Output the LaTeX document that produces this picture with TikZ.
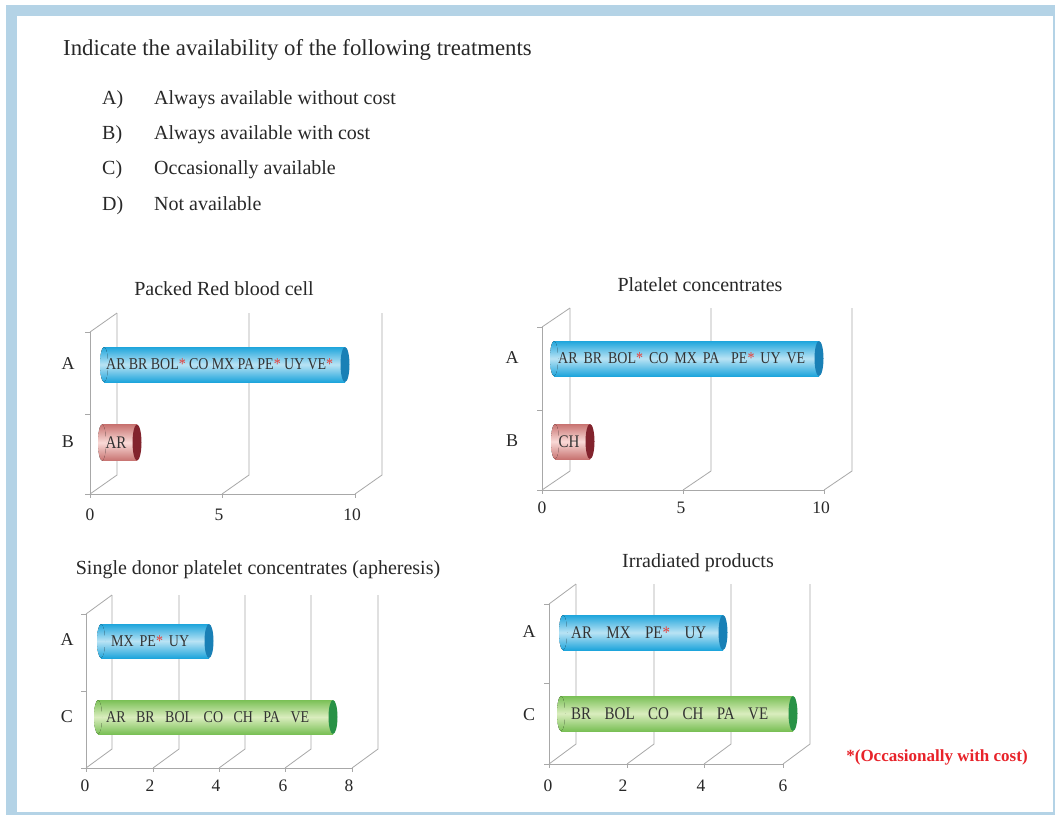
\documentclass[tikz,border=0pt]{standalone}
\usepackage{fontspec}
\usepackage{graphicx}
\setmainfont{Liberation Serif}
\definecolor{frameblue}{RGB}{180,211,230}
\definecolor{gridgray}{RGB}{168,168,168}
\definecolor{txt}{RGB}{40,40,40}
\definecolor{bartxt}{RGB}{50,50,50}
\definecolor{astred}{RGB}{232,64,58}
\definecolor{noteRed}{RGB}{232,35,42}
\definecolor{bEdge}{RGB}{30,165,220}
\definecolor{bLight}{RGB}{185,227,244}
\definecolor{bCap}{RGB}{25,128,182}
\definecolor{rEdge}{RGB}{200,115,113}
\definecolor{rLight}{RGB}{249,218,215}
\definecolor{rCap}{RGB}{130,35,45}
\definecolor{gEdge}{RGB}{122,192,86}
\definecolor{gLight}{RGB}{218,237,190}
\definecolor{gCap}{RGB}{40,146,70}
\tikzset{
  grid/.style={draw=gridgray,line width=0.8pt},
  titlefont/.style={font=\fontsize{22.8}{26}\selectfont,text=txt,inner sep=0pt},
  listfont/.style={font=\fontsize{20}{24}\selectfont,text=txt,inner sep=0pt,anchor=base west},
  charttitle/.style={font=\fontsize{20}{24}\selectfont,text=txt,inner sep=0pt},
  catlabel/.style={font=\fontsize{18}{21}\selectfont,text=txt,inner sep=0pt},
  ticklabel/.style={font=\fontsize{17.5}{21}\selectfont,text=txt,inner sep=0pt},
  bartext/.style={font=\fontsize{14}{17}\selectfont,text=bartxt,inner sep=0pt,anchor=west},
  bartextL/.style={font=\fontsize{15}{18}\selectfont,text=bartxt,inner sep=0pt,anchor=west},
}
% cylinder bar: x1, x2, yc, h, edge, light, cap
\newcommand\cylbar[7]{%
  \fill[top color=#5,bottom color=#5,middle color=#6] (#1+4,#3-#4/2) rectangle (#2,#3+#4/2);
  \fill[top color=#5,bottom color=#5,middle color=#6] (#1+4,#3) ellipse [x radius=4pt,y radius={#4/2*1pt}];
  \fill[#7] (#2,#3) ellipse [x radius=4.5pt,y radius={#4/2*1pt}];
}
% chart frame: x0, ytop, ymid, ybot, dx, dy, tick list, last tick
\newcommand\chartframe[8]{%
  \draw[grid] (#1,#2) -- (#1,#4);
  \draw[grid] (#1-5,#2) -- (#1,#2);
  \draw[grid] (#1-5,#3) -- (#1,#3);
  \draw[grid] (#1-5,#4) -- (#8,#4);
  \draw[grid] (#1,#2) -- (#1+#5,#2+#6);
  \foreach \t in {#7} {
    \draw[grid] (\t,#4) -- (\t,#4+4);
    \draw[grid] (\t,#4) -- (\t+#5,#4+#6) -- (\t+#5,#2+#6);
  }
}
\newcommand\astr{{\color{astred}*}}
\newcommand\tall[1]{\scalebox{1}[1.18]{#1}}
\begin{document}
\begin{tikzpicture}[x=1pt,y=-1pt]
\useasboundingbox (0,0) rectangle (1055,815);
\fill[white] (0,0) rectangle (1055,815);
\fill[frameblue] (6,5) rectangle (1055,815);
\fill[white] (17,16) rectangle (1053,812);

% header
\node[titlefont,anchor=west] (title) at (63,50) {Indicate the availability of the following treatments};
\node[listfont] (la) at (102,104.5) {A)};
\node[listfont] (lat) at (154,104.5) {Always available without cost};
\node[listfont] (lb) at (102,139.5) {B)};
\node[listfont] (lbt) at (154,139.5) {Always available with cost};
\node[listfont] (lc) at (102,174.5) {C)};
\node[listfont] (lct) at (154,174.5) {Occasionally available};
\node[listfont] (ld) at (102,210) {D)};
\node[listfont] (ldt) at (154,210) {Not available};

% ---------- chart 1
\node[charttitle] (c1title) at (224,289) {Packed Red blood cell};
\chartframe{90}{332}{414}{494}{27}{-19}{90,222,355}{355}
\cylbar{100}{345}{364.5}{35}{bEdge}{bLight}{bCap}
\cylbar{98}{137}{442.5}{36}{rEdge}{rLight}{rCap}
\node[bartext] (c1a) at (106,364.5) {\tall{\makebox[227pt]{AR\hfill BR\hfill BOL\astr\hfill CO\hfill MX\hfill PA\hfill PE\astr\hfill UY\hfill VE\astr}}};
\node[bartextL,anchor=center] (c1b) at (116,442.5) {\tall{AR}};
\node[catlabel] (c1A) at (68,364) {A};
\node[catlabel] (c1B) at (68,442) {B};
\node[ticklabel] (c1x0) at (90,515) {0};
\node[ticklabel] (c1x5) at (219,515) {5};
\node[ticklabel] (c1x10) at (352,515) {10};

% ---------- chart 2
\node[charttitle] (c2title) at (700,285) {Platelet concentrates};
\chartframe{542}{327}{410}{490}{28}{-19}{542,683,824}{824}
\cylbar{550}{819}{358.5}{35}{bEdge}{bLight}{bCap}
\cylbar{551}{590}{441.5}{35}{rEdge}{rLight}{rCap}
\node[bartext] (c2a) at (558,358.5) {\tall{\makebox[247pt]{AR\hfill BR\hfill BOL\astr\hfill CO\hfill MX\hfill PA\hfill\hfill PE\astr\hfill UY\hfill VE}}};
\node[bartextL,anchor=center] (c2b) at (569,441.5) {\tall{CH}};
\node[catlabel] (c2A) at (512,358) {A};
\node[catlabel] (c2B) at (512,441) {B};
\node[ticklabel] (c2x0) at (542,508) {0};
\node[ticklabel] (c2x5) at (681,508) {5};
\node[ticklabel] (c2x10) at (821,508) {10};

% ---------- chart 3
\node[charttitle] (c3title) at (258,570) {Single donor platelet concentrates (apheresis)};
\chartframe{86}{614}{691}{768}{26}{-19}{86,153,219,285,352}{352}
\cylbar{97}{209}{641}{34}{bEdge}{bLight}{bCap}
\cylbar{94}{333}{717}{34}{gEdge}{gLight}{gCap}
\node[bartext] (c3a) at (111,641) {\tall{\makebox[78pt]{MX\hfill PE\astr\hfill UY}}};
\node[bartext] (c3c) at (106,717) {\tall{\makebox[203pt]{AR\hfill BR\hfill BOL\hfill CO\hfill CH\hfill PA\hfill VE}}};
\node[catlabel] (c3A) at (67,640) {A};
\node[catlabel] (c3C) at (67,717) {C};
\node[ticklabel] (c3x0) at (85,786) {0};
\node[ticklabel] (c3x2) at (150,786) {2};
\node[ticklabel] (c3x4) at (216,786) {4};
\node[ticklabel] (c3x6) at (283,786) {6};
\node[ticklabel] (c3x8) at (349,786) {8};

% ---------- chart 4
\node[charttitle] (c4title) at (698,563) {Irradiated products};
\chartframe{549}{604}{683}{764}{27}{-20}{549,627,704,783}{783}
\cylbar{559}{723}{632.5}{35}{bEdge}{bLight}{bCap}
\cylbar{557}{793}{713.5}{35}{gEdge}{gLight}{gCap}
\node[bartextL] (c4a) at (571,632.5) {\tall{\makebox[135pt]{AR\hfill MX\hfill PE\astr\hfill UY}}};
\node[bartextL] (c4c) at (571,713.5) {\tall{\makebox[197pt]{BR\hfill BOL\hfill CO\hfill CH\hfill PA\hfill VE}}};
\node[catlabel] (c4A) at (529,632) {A};
\node[catlabel] (c4C) at (529,715) {C};
\node[ticklabel] (c4x0) at (548,786) {0};
\node[ticklabel] (c4x2) at (623,786) {2};
\node[ticklabel] (c4x4) at (701,786) {4};
\node[ticklabel] (c4x6) at (783,786) {6};

% footnote
\node[font=\bfseries\fontsize{17}{20}\selectfont,text=noteRed,inner sep=0pt] (note) at (937,757) {*(Occasionally with cost)};
\end{tikzpicture}
\end{document}
